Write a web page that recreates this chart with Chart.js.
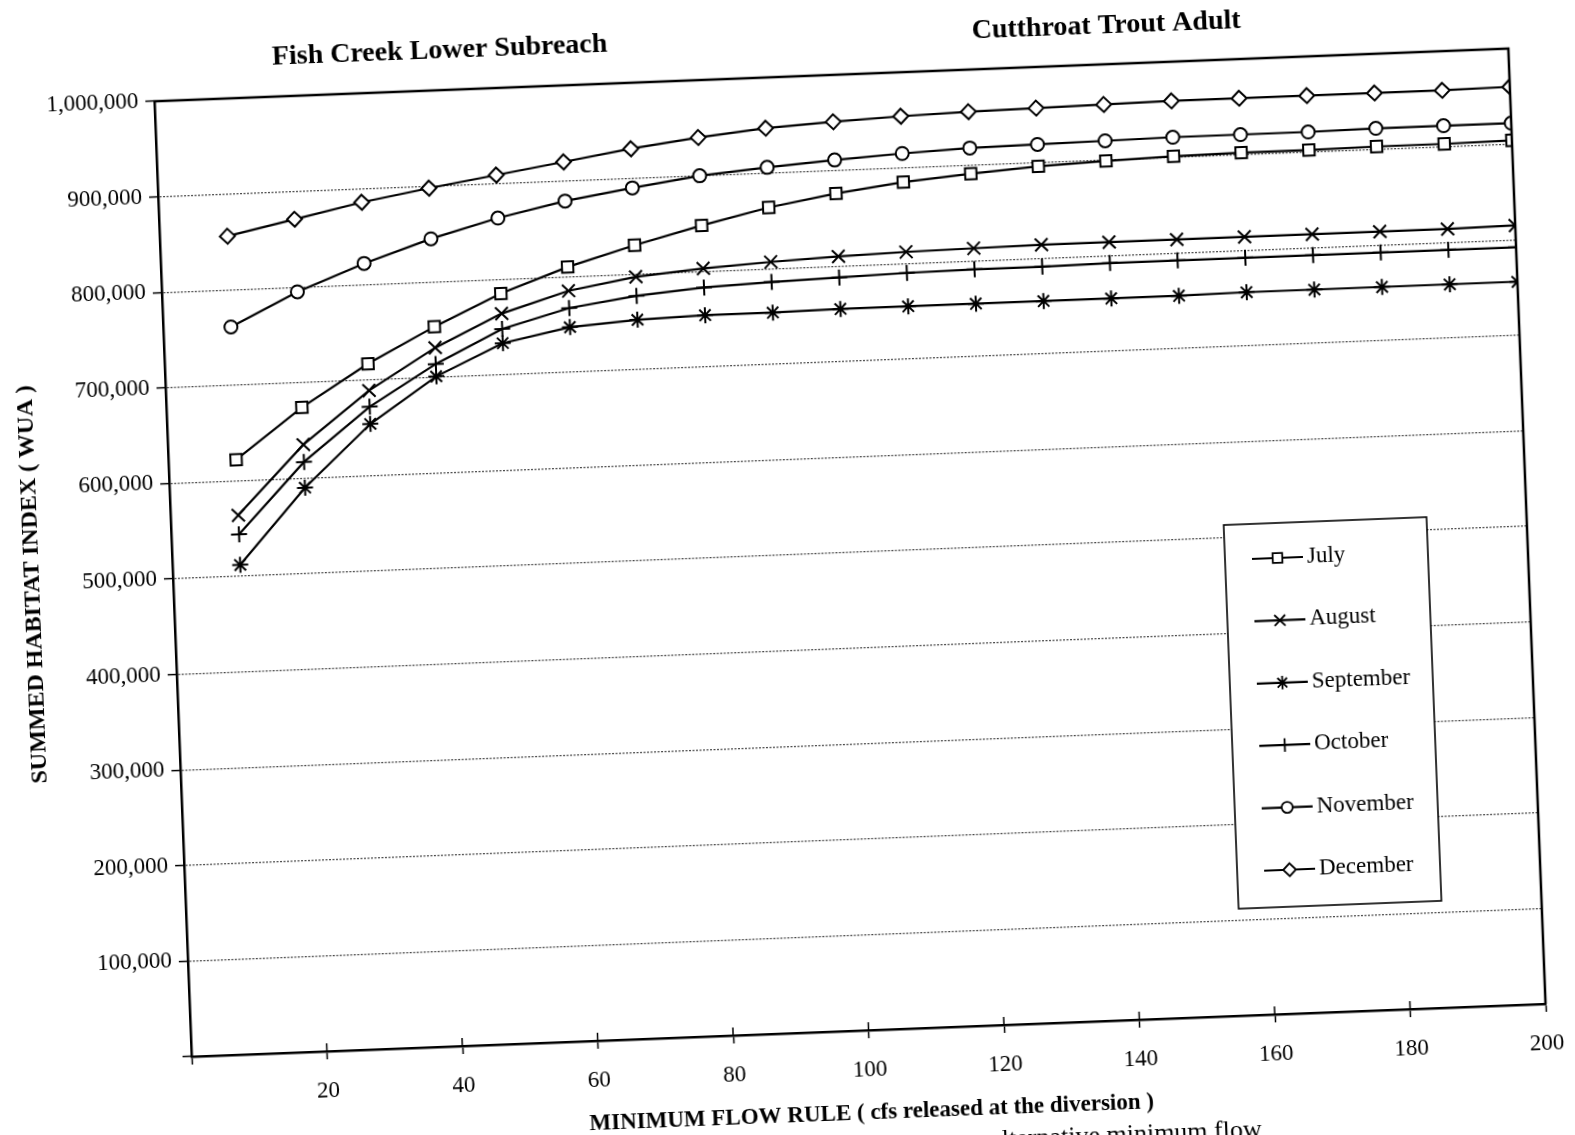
<!DOCTYPE html>
<html>
<head>
<meta charset="utf-8">
<title>Fish Creek Lower Subreach - Cutthroat Trout Adult</title>
<script src="https://cdn.jsdelivr.net/npm/chart.js@4.4.1/dist/chart.umd.min.js"></script>
<style>
  html, body { margin: 0; padding: 0; background: #fff; overflow: hidden; width: 1575px; height: 1135px; }
  /* the scanned page is tilted a little, so the whole canvas is turned */
  #page { position: absolute; left: -62.5px; top: -82.5px; width: 1700px; height: 1300px;
          transform: rotate(-2.23deg); transform-origin: 50% 50%; }
</style>
</head>
<body>
<div id="page"><canvas id="chart" width="1700" height="1300"></canvas></div>
<script>
const flows = [10, 20, 30, 40, 50, 60, 70, 80, 90, 100, 110, 120, 130, 140, 150, 160, 170, 180, 190, 200];

const july      = [622000, 674000, 717000, 753000, 785000, 810000, 830000, 848000, 864000, 876000,
                   885000, 891000, 896000, 899000, 901000, 902000, 902000, 903000, 903000, 904000];
const august    = [564000, 635000, 689000, 731000, 764000, 785000, 797000, 803000, 807000, 810000,
                   812000, 813000, 814000, 814000, 814000, 814000, 814000, 814000, 814000, 815000];
const september = [512000, 590000, 654000, 701000, 733000, 747000, 752000, 754000, 754000, 755000,
                   755000, 755000, 755000, 755000, 755000, 756000, 756000, 756000, 756000, 756000];
const october   = [544000, 617000, 672000, 714000, 748000, 767000, 777000, 783000, 786000, 788000,
                   790000, 791000, 791000, 792000, 792000, 792000, 792000, 792000, 792000, 792000];
const november  = [761000, 795000, 822000, 845000, 864000, 879000, 890000, 900000, 906000, 911000,
                   915000, 918000, 919000, 920000, 921000, 921000, 921000, 922000, 922000, 922000];
const december  = [856000, 871000, 886000, 898000, 909000, 920000, 931000, 940000, 947000, 951000,
                   954000, 956000, 957000, 958000, 959000, 959000, 959000, 959000, 959000, 960000];

const months = ['July', 'August', 'September', 'October', 'November', 'December'];
const series = [july, august, september, october, november, december];
const markers = ['rect', 'crossRot', 'star', 'cross', 'circle', 'rectRot'];
const markerSize = [8, 9, 8, 8, 6.5, 7.5];

const serif = '"Liberation Serif", "Times New Roman", serif';

const datasets = series.map((vals, i) => ({
    label: months[i],
    data: flows.map((f, j) => ({x: f, y: vals[j]})),
    borderColor: '#000',
    borderWidth: 2.2,
    pointStyle: markers[i],
    pointRadius: markerSize[i],
    pointBorderWidth: 2,
    pointBackgroundColor: '#fff',
    pointBorderColor: '#000',
    tension: 0,
    fill: false
}));

// two headings, the frame, inner half of x ticks and the boxed legend
const pageBits = {
    id: 'pageBits',
    afterDraw(chart) {
        const ctx = chart.ctx;
        const a = chart.chartArea;
        const xs = chart.scales.x;
        ctx.save();

        ctx.fillStyle = '#000';
        ctx.font = 'bold 28px ' + serif;
        ctx.textAlign = 'center';
        ctx.textBaseline = 'middle';
        ctx.fillText('Fish Creek Lower Subreach', 522, 120);
        ctx.fillText('Cutthroat Trout Adult', 1189, 121);

        ctx.strokeStyle = '#000';
        ctx.lineWidth = 2.5;
        ctx.beginPath();
        ctx.moveTo(a.left - 1, a.top);
        ctx.lineTo(a.right, a.top);
        ctx.lineTo(a.right, a.bottom);
        ctx.stroke();

        ctx.lineWidth = 1.5;
        xs.ticks.forEach(t => {
            const px = xs.getPixelForValue(t.value);
            ctx.beginPath();
            ctx.moveTo(px, a.bottom);
            ctx.lineTo(px, a.bottom - 8);
            ctx.stroke();
        });

        // legend
        const lx = 1287, ly = 624, lw = 203, lh = 384;
        ctx.fillStyle = '#fff';
        ctx.fillRect(lx, ly, lw, lh);
        ctx.lineWidth = 1.6;
        ctx.strokeRect(lx, ly, lw, lh);
        ctx.textAlign = 'left';
        ctx.font = '23px ' + serif;
        chart.data.datasets.forEach((ds, i) => {
            const y = ly + 35 + i * 62.4;
            ctx.strokeStyle = '#000';
            ctx.lineWidth = 2.2;
            ctx.beginPath();
            ctx.moveTo(lx + 27, y);
            ctx.lineTo(lx + 78, y);
            ctx.stroke();
            ctx.fillStyle = '#fff';
            ctx.lineWidth = 1.8;
            Chart.helpers.drawPoint(ctx, {
                pointStyle: ds.pointStyle, radius: ds.pointRadius * 0.85, rotation: 0, borderWidth: 1.8
            }, lx + 52.5, y);
            ctx.fillStyle = '#000';
            ctx.fillText(ds.label, lx + 82, y);
        });

        // caption line of the page, cut by the bottom edge
        ctx.font = '26px ' + serif;
        ctx.fillText('alternative minimum flow', 1030, 1230);
        ctx.restore();
    }
};

new Chart(document.getElementById('chart').getContext('2d'), {
    type: 'line',
    data: {datasets: datasets},
    options: {
        responsive: false,
        animation: false,
        layout: {padding: {left: 0, top: 159, right: 110, bottom: 0}},
        plugins: {legend: {display: false}, tooltip: {enabled: false}},
        scales: {
            x: {
                type: 'linear',
                min: 0,
                max: 200,
                afterFit(s) { s.height = 185; },
                ticks: {
                    stepSize: 20,
                    autoSkip: false,
                    maxRotation: 0,
                    padding: 18,
                    color: '#000',
                    font: {family: serif, size: 23},
                    callback: v => (v === 0 ? '' : v)
                },
                grid: {drawOnChartArea: false, drawTicks: true, tickLength: 8, tickColor: '#000', tickWidth: 1.5},
                border: {display: true, color: '#000', width: 2.5},
                title: {
                    display: true,
                    text: 'MINIMUM FLOW RULE ( cfs released at the diversion )',
                    color: '#000',
                    font: {family: serif, size: 23, weight: 'bold'},
                    padding: {top: 0, bottom: 88}
                }
            },
            y: {
                min: 0,
                max: 1000000,
                afterFit(s) { s.width = 235; },
                ticks: {
                    stepSize: 100000,
                    padding: 7,
                    color: '#000',
                    font: {family: serif, size: 23},
                    callback: v => (v === 0 ? '' : v.toLocaleString('en-US'))
                },
                grid: {color: '#4a4a4a', lineWidth: 1.2, tickLength: 9, tickColor: '#000', tickWidth: 1.5},
                border: {display: true, color: '#000', width: 2.5, dash: [2, 1.5]},
                title: {
                    display: true,
                    text: 'SUMMED HABITAT INDEX ( WUA )',
                    color: '#000',
                    font: {family: serif, size: 24, weight: 'bold'},
                    padding: {top: 80, bottom: 0}
                }
            }
        }
    },
    plugins: [pageBits]
});
</script>
</body>
</html>
